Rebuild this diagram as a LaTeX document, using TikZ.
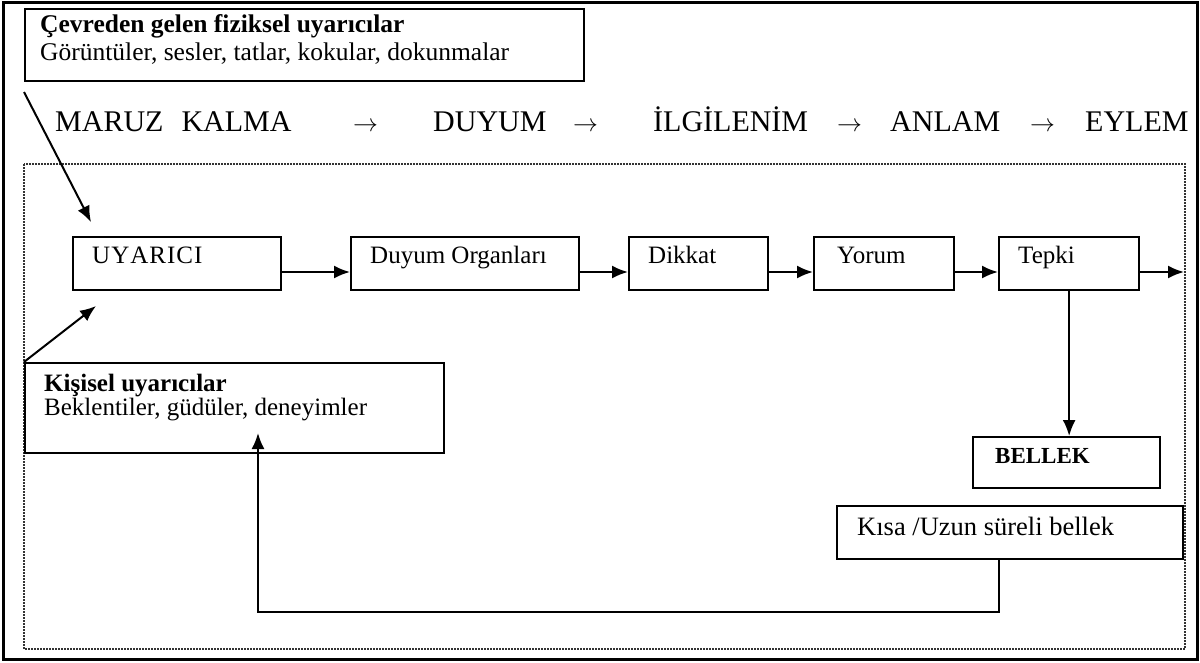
\documentclass[tikz,border=0pt]{standalone}
\usepackage{fontspec}
\setmainfont{Liberation Serif}
\usetikzlibrary{arrows.meta,calc}

\begin{document}
\begin{tikzpicture}[x=1pt,y=-1pt,
  box/.style={draw=black,line width=2.3pt,inner sep=0pt,anchor=north west},
  lbl/.style={anchor=base west,inner sep=0pt,font=\fontsize{25}{30}\selectfont},
  boldlbl/.style={lbl,font=\fontsize{25}{30}\selectfont\bfseries},
  head/.style={anchor=base west,inner sep=0pt,font=\fontsize{30}{36}\selectfont},
  arr/.style={draw=black,line width=2pt,-{Latex[length=16pt,width=13pt]}},
  frame/.style={draw=black,line width=3pt},
  dotframe/.style={draw=black!80,line width=1.3pt,dash pattern=on 2pt off 1pt}
]
\useasboundingbox (0,0) rectangle (1200,662);

% outer frame and the dotted process area
\draw[frame] (3,2.5) rectangle (1197,659.5);
\draw[dotframe] (24,164) rectangle (1185,649);

% external stimuli box
\node[box,minimum width=559pt,minimum height=72pt] (env) at (24,8) {};
\node[lbl,font=\fontsize{25.5}{30}\selectfont\bfseries] (envtitle) at (40,32) {Çevreden gelen fiziksel uyarıcılar};
\node[lbl,font=\fontsize{25.5}{30}\selectfont] (envitems) at (40,60) {Görüntüler, sesler, tatlar, kokular, dokunmalar};

% stage headings
\node[head] (h1) at (55,131) {MARUZ\hspace{0.6em}KALMA};
\node[head] (a1) at (353,131) {$\rightarrow$};
\node[head] (h2) at (433,131) {DUYUM};
\node[head] (a2) at (573,131) {$\rightarrow$};
\node[head] (h3) at (653,131) {İLGİLENİM};
\node[head] (a3) at (837,131) {$\rightarrow$};
\node[head] (h4) at (890,131) {ANLAM};
\node[head] (a4) at (1030,131) {$\rightarrow$};
\node[head] (h5) at (1085,131) {EYLEM};

% process boxes
\node[box,minimum width=208pt,minimum height=53pt] (uyarici) at (72,236) {};
\node[box,minimum width=228pt,minimum height=53pt] (duyum) at (350,236) {};
\node[box,minimum width=139pt,minimum height=53pt] (dikkat) at (628,236) {};
\node[box,minimum width=140pt,minimum height=53pt] (yorum) at (813,236) {};
\node[box,minimum width=140pt,minimum height=53pt] (tepki) at (998,236) {};
\node[box,minimum width=187pt,minimum height=51pt] (bellek) at (972,436) {};
\node[box,minimum width=346pt,minimum height=53pt] (kisa) at (836,505) {};
\node[box,minimum width=419pt,minimum height=90pt] (kisisel) at (24,362) {};

\node[lbl] (uyaricit) at ($(uyarici.north west)+(20,27)$) {U\kern1ptY\kern1ptA\kern1ptR\kern1ptI\kern1ptC\kern1ptI};
\node[lbl] (duyumt) at ($(duyum.north west)+(20,27)$) {Duyum Organları};
\node[lbl] (dikkatt) at ($(dikkat.north west)+(20,27)$) {Dikkat};
\node[lbl] (yorumt) at ($(yorum.north west)+(24,27)$) {Yorum};
\node[lbl] (tepkit) at ($(tepki.north west)+(20,27)$) {Tepki};
\node[lbl,font=\fontsize{23}{28}\selectfont\bfseries] (bellekt) at ($(bellek.north west)+(23,27)$) {BELLEK};
\node[lbl,font=\fontsize{26.5}{30}\selectfont] (kisat) at ($(kisa.north west)+(21,30)$) {Kısa /Uzun süreli bellek};
\node[boldlbl] (kisiselt) at ($(kisisel.north west)+(20,29)$) {Kişisel uyarıcılar};
\node[lbl] (kisiseli) at ($(kisisel.north west)+(20,53)$) {Beklentiler, güdüler, deneyimler};

% connectors
\coordinate (row) at (0,272);
\coordinate (out) at (1184,272);
\coordinate (envsrc) at (24,92);
\coordinate (uyin1) at (91,222);
\coordinate (uyin2) at (96,306);
\coordinate (retx) at (999,0);
\coordinate (turn) at (258,612);
\coordinate (kin) at (258,433);

\draw[arr] (uyarici.east |- row) -- (duyum.west |- row);
\draw[arr] (duyum.east |- row) -- (dikkat.west |- row);
\draw[arr] (dikkat.east |- row) -- (yorum.west |- row);
\draw[arr] (yorum.east |- row) -- (tepki.west |- row);
\draw[arr] (tepki.east |- row) -- (out);
\draw[arr] (tepki.south) -- (tepki.south |- bellek.north);
\draw[arr] (envsrc) -- (uyin1);
\draw[arr] (kisisel.north west) -- (uyin2);
\draw[arr] (kisa.south -| retx) |- (turn) -- (kin);
\end{tikzpicture}
\end{document}
